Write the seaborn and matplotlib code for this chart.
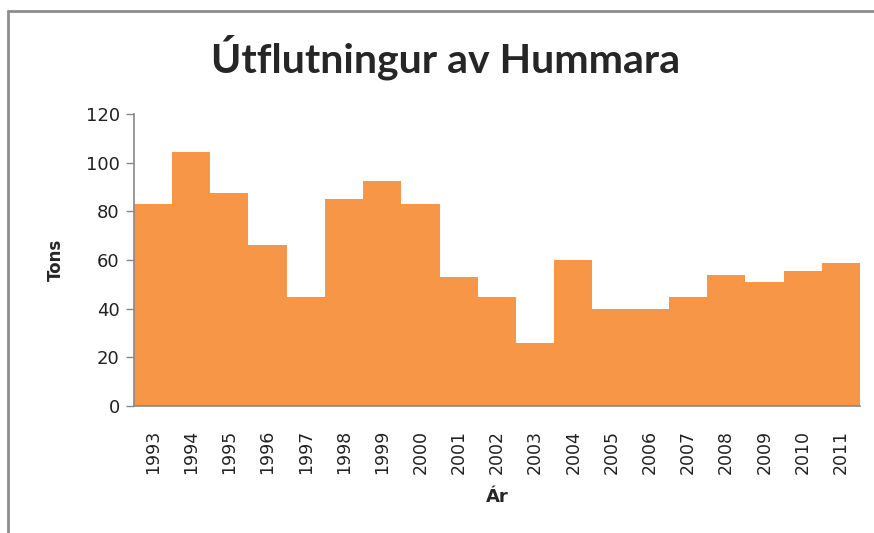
import matplotlib
matplotlib.use("Agg")
import matplotlib.pyplot as plt
from matplotlib.lines import Line2D
import pandas as pd
import seaborn as sns

years = [str(y) for y in range(1993, 2012)]
tons = [83, 104.5, 87.5, 66, 45, 85, 92.5, 83, 53, 45, 26, 60, 40, 40, 45, 54, 51, 55.5, 59]
y_ticks = [0, 20, 40, 60, 80, 100, 120]

df = pd.DataFrame({"Ár": years, "Tons": tons})

sns.set_theme(style="white")
plt.rcParams["font.family"] = ["DejaVu Sans"]

fig = plt.figure(figsize=(8.74, 5.33), dpi=100)
ax = fig.add_axes([0.153, 0.238, 0.831, 0.548])

sns.barplot(data=df, x="Ár", y="Tons", color="#F79646", saturation=1,
            width=1.0, linewidth=0, ax=ax)

ax.set_ylim(0, 120)
ax.set_xlim(-0.5, len(years) - 0.5)
ax.set_yticks(y_ticks)
ax.tick_params(axis="y", which="both", left=True, length=6, width=1,
               color="#888888", labelsize=13, labelcolor="#222222", pad=4)
ax.tick_params(axis="x", bottom=False, labelsize=12.5, labelcolor="#222222",
               rotation=90, pad=11)
for side in ["top", "right"]:
    ax.spines[side].set_visible(False)
for side in ["left", "bottom"]:
    ax.spines[side].set_color("#888888")
    ax.spines[side].set_linewidth(1.2)

ax.set_xlabel("Ár", fontsize=13, fontweight="bold", labelpad=10)
ax.set_ylabel("Tons", fontsize=12, fontweight="bold", labelpad=15)

fig.text(0.510, 0.892, "Útflutningur av Hummara", ha="center", va="center",
         fontsize=29.5, fontweight="bold", family=["Lato", "DejaVu Sans"])

# chart frame (left and top edges)
fig.add_artist(Line2D([0.0095, 0.0095], [0.0, 0.979], transform=fig.transFigure,
                      color="#8c8c8c", linewidth=2))
fig.add_artist(Line2D([0.0095, 1.0], [0.979, 0.979], transform=fig.transFigure,
                      color="#8c8c8c", linewidth=2))

fig.savefig("out.png", dpi=100)
